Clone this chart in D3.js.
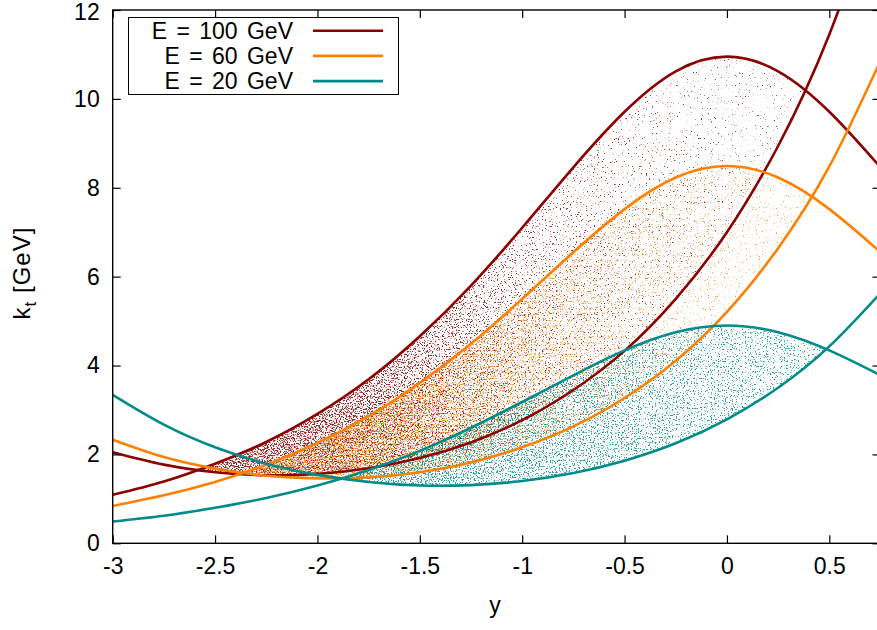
<!DOCTYPE html>
<html>
<head>
<meta charset="utf-8">
<script src="https://cdn.jsdelivr.net/npm/d3@7"></script>
<style>
  html, body { margin: 0; padding: 0; background: #fff; }
  svg { display: block; }
  text { font-family: "Liberation Sans", Arial, Helvetica, sans-serif; fill: #000; }
</style>
</head>
<body>
<svg id="chart" width="877" height="630"></svg>
<script>
// ---------------- data ----------------
const rapidity = [-3, -2.75, -2.5, -2.25, -2, -1.75, -1.5, -1.25, -1, -0.75, -0.5, -0.25, 0, 0.25, 0.5, 0.75];
// upper kinematic boundary (hump) for each energy
const ktMax100 = [1.09, 1.39, 1.79, 2.28, 2.91, 3.69, 4.66, 5.80, 7.10, 8.46, 9.71, 10.62, 10.95, 10.62, 9.71, 8.46];
const ktMax60  = [0.84, 1.08, 1.38, 1.77, 2.26, 2.86, 3.61, 4.49, 5.50, 6.55, 7.52, 8.23, 8.49, 8.23, 7.52, 6.55];
const ktMax20  = [0.49, 0.62, 0.80, 1.02, 1.30, 1.65, 2.08, 2.60, 3.18, 3.78, 4.34, 4.75, 4.90, 4.75, 4.34, 3.78];
// lower (U-shaped) boundary for each energy
const ktMin100 = [2.05, 1.77, 1.60, 1.53, 1.56, 1.69, 1.92, 2.27, 2.77, 3.45, 4.33, 5.50, 7.00, 8.94, 11.45, 14.68];
const ktMin60  = [2.33, 1.94, 1.68, 1.52, 1.46, 1.48, 1.60, 1.82, 2.16, 2.63, 3.27, 4.11, 5.21, 6.64, 8.48, 10.86];
const ktMin20  = [3.34, 2.67, 2.16, 1.79, 1.54, 1.38, 1.30, 1.31, 1.40, 1.58, 1.86, 2.25, 2.79, 3.50, 4.43, 5.63];

const seriesLabels = ["E = 100 GeV", "E = 60 GeV", "E = 20 GeV"];
const xTickValues = [-3, -2.5, -2, -1.5, -1, -0.5, 0, 0.5];
const yTickValues = [0, 2, 4, 6, 8, 10, 12];
const xLabel = "y";

// ---------------- styles ----------------
const colors = ["#8b0000", "#ff8000", "#008b8b"];
// relative density of the scattered points along x: [rapidity, density]
const densityStops = [
  [[-2.6, 0.93], [-2.0, 0.9], [-1.5, 0.82], [-1.0, 0.7], [-0.5, 0.62], [0.0, 0.58], [0.4, 0.56]],
  [[-2.4, 0.9], [-1.8, 0.87], [-1.3, 0.79], [-0.8, 0.7], [-0.3, 0.63], [0.4, 0.58]],
  [[-1.9, 0.9], [-1.4, 0.84], [-0.8, 0.79], [-0.2, 0.75], [0.5, 0.72]]
];

const W = 877, H = 630;
const svg = d3.select("#chart");
const x = d3.scaleLinear().domain([-3, 0.75]).range([112.7, 880.5]);
const yS = d3.scaleLinear().domain([0, 12]).range([543.3, 10]);

const series = [
  { label: seriesLabels[0], hi: ktMax100, lo: ktMin100 },
  { label: seriesLabels[1], hi: ktMax60, lo: ktMin60 },
  { label: seriesLabels[2], hi: ktMax20, lo: ktMin20 }
];

const defs = svg.append("defs");
defs.append("clipPath").attr("id", "plotClip")
  .append("rect").attr("x", x(-3)).attr("y", yS(12))
  .attr("width", x(0.75) - x(-3)).attr("height", yS(0) - yS(12));

const curve = d3.curveNatural;
const pts = arr => rapidity.map((r, i) => [r, arr[i]]);

series.forEach((s, k) => {
  defs.append("clipPath").attr("id", "below" + k)
    .append("path")
    .attr("d", d3.area().x(d => x(d[0])).y0(yS(0)).y1(d => yS(d[1])).curve(curve)(pts(s.hi)));
  const g = defs.append("linearGradient").attr("id", "grad" + k)
    .attr("gradientUnits", "userSpaceOnUse")
    .attr("x1", x(-3)).attr("x2", x(0.75)).attr("y1", 0).attr("y2", 0);
  densityStops[k].forEach(st => {
    g.append("stop").attr("offset", (st[0] + 3) / 3.75)
      .attr("stop-color", "#000").attr("stop-opacity", st[1]);
  });
  const f = defs.append("filter").attr("id", "spk" + k)
    .attr("filterUnits", "userSpaceOnUse")
    .attr("x", 0).attr("y", 0).attr("width", W).attr("height", H)
    .attr("color-interpolation-filters", "sRGB");
  f.append("feTurbulence").attr("type", "fractalNoise").attr("baseFrequency", "0.71 0.83")
    .attr("numOctaves", 2).attr("seed", 7 + k * 5).attr("result", "noise");
  f.append("feColorMatrix").attr("in", "noise").attr("type", "matrix")
    .attr("values", "0 0 0 0 0  0 0 0 0 0  0 0 0 0 0  1 0 0 0 0").attr("result", "n");
  f.append("feComposite").attr("in", "n").attr("in2", "SourceAlpha").attr("operator", "arithmetic")
    .attr("k1", 0).attr("k2", 9).attr("k3", 5.6).attr("k4", -9.4).attr("result", "m");
  f.append("feFlood").attr("flood-color", colors[k]).attr("flood-opacity", 0.85).attr("result", "c");
  f.append("feComposite").attr("in", "c").attr("in2", "m").attr("operator", "in");
});

const plot = svg.append("g").attr("clip-path", "url(#plotClip)");

// scatter clouds (between lower and upper boundary)
series.forEach((s, k) => {
  plot.append("g").attr("clip-path", "url(#below" + k + ")")
    .append("path")
    .attr("d", d3.area().x(d => x(d[0])).y0(yS(13)).y1(d => yS(d[1])).curve(curve)(pts(s.lo)))
    .attr("fill", "url(#grad" + k + ")")
    .attr("filter", "url(#spk" + k + ")");
});

// boundary lines
const line = d3.line().x(d => x(d[0])).y(d => yS(d[1])).curve(curve);
series.forEach((s, k) => {
  plot.append("path").attr("d", line(pts(s.hi))).attr("fill", "none")
    .attr("stroke", colors[k]).attr("stroke-width", 2.6);
  plot.append("path").attr("d", line(pts(s.lo))).attr("fill", "none")
    .attr("stroke", colors[k]).attr("stroke-width", 2.6);
});

// axes (gnuplot style: inward ticks, mirrored)
const fs = 23;
const axB = svg.append("g").attr("transform", `translate(0,${yS(0)})`)
  .call(d3.axisBottom(x).tickValues(xTickValues).tickSizeInner(-8).tickSizeOuter(0).tickPadding(14)
    .tickFormat(d => d3.format("")(d).replace("−", "-")));
const axT = svg.append("g").attr("transform", `translate(0,${yS(12)})`)
  .call(d3.axisTop(x).tickValues(xTickValues).tickSizeInner(-8).tickSizeOuter(0).tickFormat(""));
const axL = svg.append("g").attr("transform", `translate(${x(-3)},0)`)
  .call(d3.axisLeft(yS).tickValues(yTickValues).tickSizeInner(-8).tickSizeOuter(0).tickPadding(13));
const axR = svg.append("g").attr("transform", `translate(${x(0.75)},0)`)
  .call(d3.axisRight(yS).tickValues(yTickValues).tickSizeInner(-8).tickSizeOuter(0).tickFormat(""));
[axB, axT, axL, axR].forEach(a => {
  a.select(".domain").remove();
  a.selectAll(".tick line").attr("stroke", "#000").attr("stroke-width", 1.2);
  a.selectAll("text").attr("font-size", fs).attr("font-family", null).style("fill", "#000");
});
// keep the top label fully inside the picture
axL.selectAll(".tick text").filter(d => d === 12).attr("dy", "0.40em");
svg.append("rect").attr("x", x(-3)).attr("y", yS(12))
  .attr("width", x(0.75) - x(-3)).attr("height", yS(0) - yS(12))
  .attr("fill", "none").attr("stroke", "#000").attr("stroke-width", 1.4);

// axis titles
svg.append("text").attr("x", 495).attr("y", 613).attr("text-anchor", "middle")
  .attr("font-size", fs).text(xLabel);
const yt = svg.append("text").attr("transform", "translate(30,273) rotate(-90)")
  .attr("text-anchor", "middle").attr("font-size", 24).attr("letter-spacing", 1);
yt.append("tspan").text("k");
yt.append("tspan").attr("font-size", 17).attr("dy", 6).text("t");
yt.append("tspan").attr("dy", -6).text(" [GeV]");

// legend
const lg = svg.append("g");
lg.append("rect").attr("x", 128.5).attr("y", 17.5).attr("width", 270).attr("height", 77)
  .attr("fill", "#fff").attr("stroke", "#000").attr("stroke-width", 1);
series.forEach((s, k) => {
  const cy = 30.7 + k * 25.2;
  lg.append("text").attr("x", 293).attr("y", cy).attr("dy", "0.36em")
    .attr("text-anchor", "end").attr("font-size", fs).attr("word-spacing", 3).text(s.label);
  lg.append("line").attr("x1", 313).attr("x2", 383).attr("y1", cy).attr("y2", cy)
    .attr("stroke", colors[k]).attr("stroke-width", 2.6);
});
</script>
</body>
</html>
